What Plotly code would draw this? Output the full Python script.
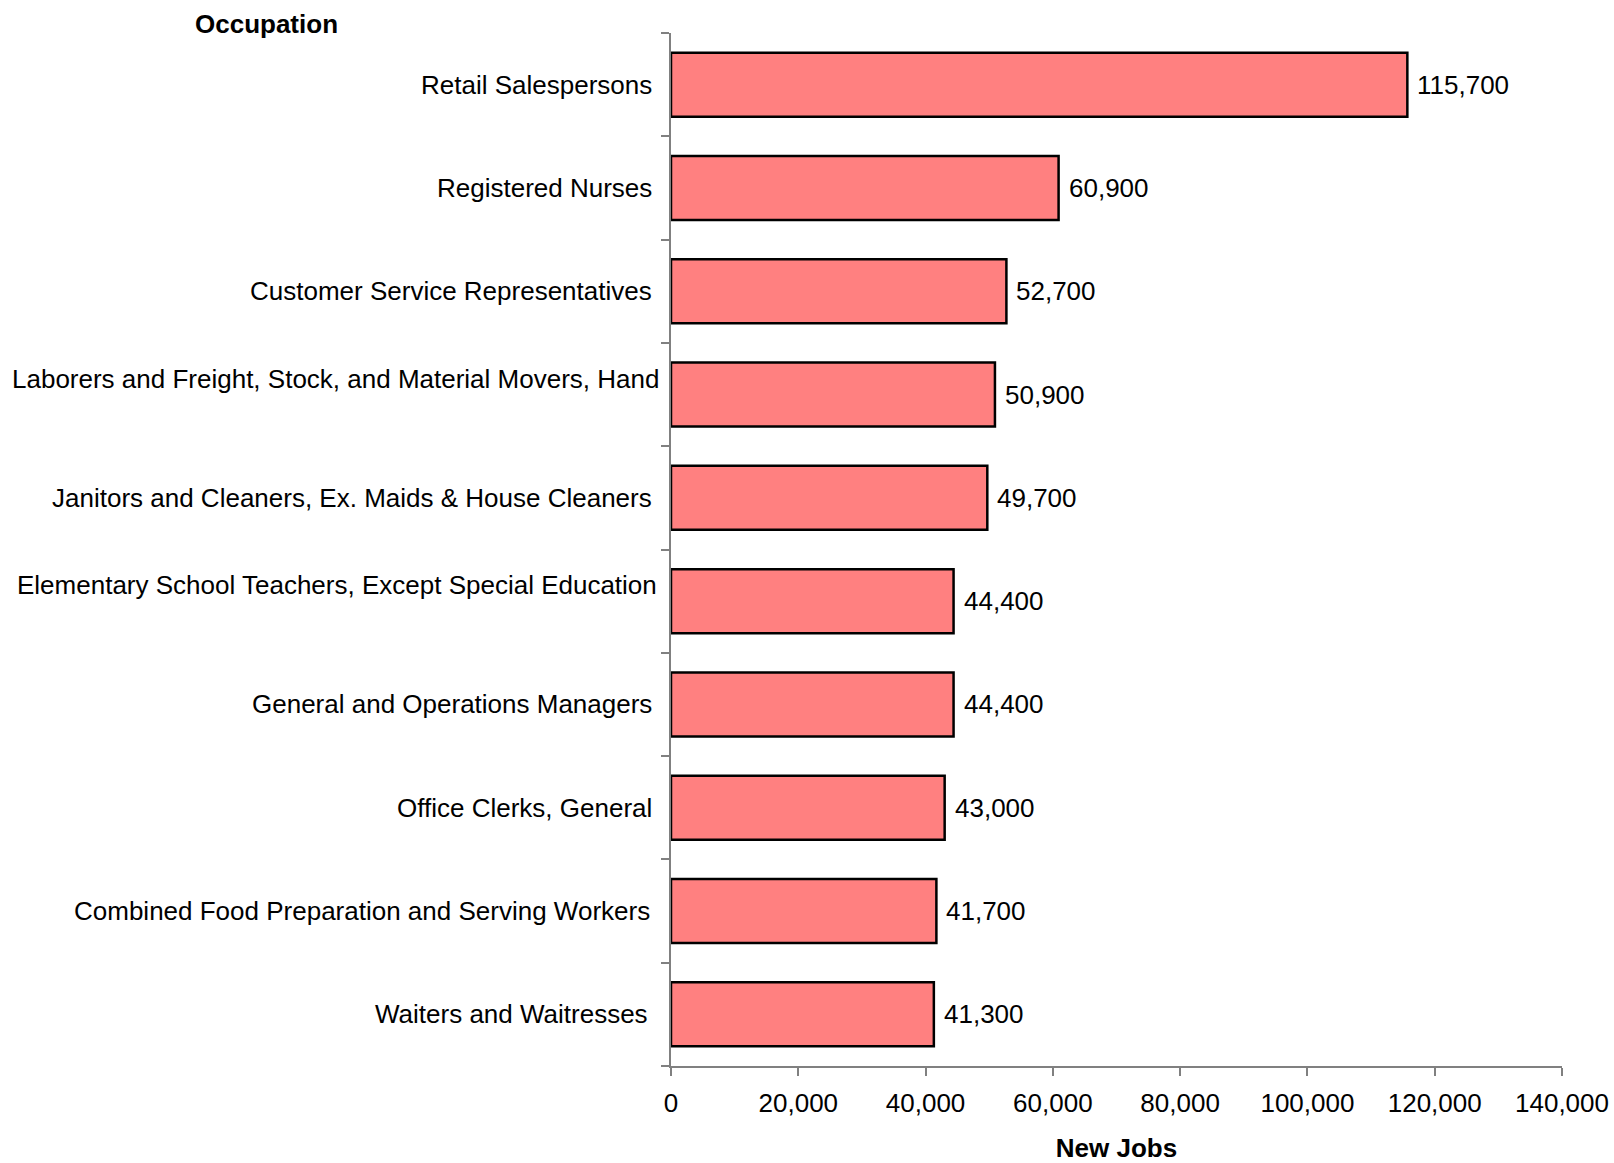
import plotly.graph_objects as go

# Projected new jobs by occupation
occupations = [
    "Retail Salespersons",
    "Registered Nurses",
    "Customer Service Representatives",
    "Laborers and Freight, Stock, and Material Movers, Hand",
    "Janitors and Cleaners, Ex. Maids & House Cleaners",
    "Elementary School Teachers, Except Special Education",
    "General and Operations Managers",
    "Office Clerks, General",
    "Combined Food Preparation and Serving Workers",
    "Waiters and Waitresses",
]
new_jobs = [115700, 60900, 52700, 50900, 49700, 44400, 44400, 43000, 41700, 41300]
x_ticks = [0, 20000, 40000, 60000, 80000, 100000, 120000, 140000]

FONT = "Liberation Sans, Arial, sans-serif"
SIZE = 26
AXIS_GRAY = "#808080"

W, H = 1614, 1163
M_L, M_R, M_T, M_B = 671, 52, 33, 97

fig = go.Figure()
fig.add_trace(go.Bar(
    x=new_jobs,
    y=occupations,
    orientation="h",
    marker=dict(color="#FF8080", line=dict(color="#000000", width=2.5)),
    width=0.62,
    hoverinfo="skip",
))

annotations = []
# Value labels at the end of each bar
for occ, v in zip(occupations, new_jobs):
    annotations.append(dict(
        x=v, y=occ, xref="x", yref="y", text=f"{v:,}",
        showarrow=False, xanchor="left", yanchor="middle", xshift=8,
        font=dict(family=FONT, size=SIZE, color="#000000"),
    ))

# Category labels; the two longest names sit a little higher
label_shift = {
    "Laborers and Freight, Stock, and Material Movers, Hand": (-10, 16),
    "Elementary School Teachers, Except Special Education": (-12, 16),
    "Combined Food Preparation and Serving Workers": (-19, 0),
    "Waiters and Waitresses": (-21, 0),
}
for occ in occupations:
    dx, dy = label_shift.get(occ, (-17, 0))
    annotations.append(dict(
        x=0, y=occ, xref="paper", yref="y", text=occ,
        showarrow=False, xanchor="right", yanchor="middle",
        xshift=dx, yshift=dy,
        font=dict(family=FONT, size=SIZE, color="#000000"),
    ))

# "Occupation" heading above the category labels
plot_w = W - M_L - M_R
plot_h = H - M_T - M_B
annotations.append(dict(
    x=(266 - M_L) / plot_w, y=1 + (M_T - 24) / plot_h,
    xref="paper", yref="paper", text="<b>Occupation</b>",
    showarrow=False, xanchor="center", yanchor="middle",
    font=dict(family=FONT, size=26, color="#000000"),
))

fig.update_layout(
    width=W, height=H,
    margin=dict(l=M_L, r=M_R, t=M_T, b=M_B, pad=0, autoexpand=False),
    paper_bgcolor="white", plot_bgcolor="white",
    showlegend=False,
    font=dict(family=FONT, size=SIZE, color="#000000"),
    annotations=annotations,
    xaxis=dict(
        range=[0, 140000], tickvals=x_ticks,
        ticktext=[f"{t:,}" for t in x_ticks],
        showgrid=False, zeroline=False,
        showline=True, linecolor=AXIS_GRAY, linewidth=2,
        ticks="outside", ticklen=8, tickcolor=AXIS_GRAY, tickwidth=1.5,
        ticklabelstandoff=5,
        tickfont=dict(family=FONT, size=SIZE, color="#000000"),
        title=dict(text="<b>New Jobs</b>", font=dict(family=FONT, size=26), standoff=22),
        automargin=False,
        fixedrange=True,
    ),
    yaxis=dict(
        type="category", categoryorder="array", categoryarray=occupations[::-1],
        range=[-0.5, 9.5], autorange=False,
        showticklabels=False, showgrid=False, zeroline=False,
        showline=True, linecolor=AXIS_GRAY, linewidth=2,
        ticks="outside", tickson="boundaries", ticklen=8,
        tickcolor=AXIS_GRAY, tickwidth=1.5,
        automargin=False,
        fixedrange=True,
    ),
    bargap=0.38,
)

fig.write_html("out.html")
